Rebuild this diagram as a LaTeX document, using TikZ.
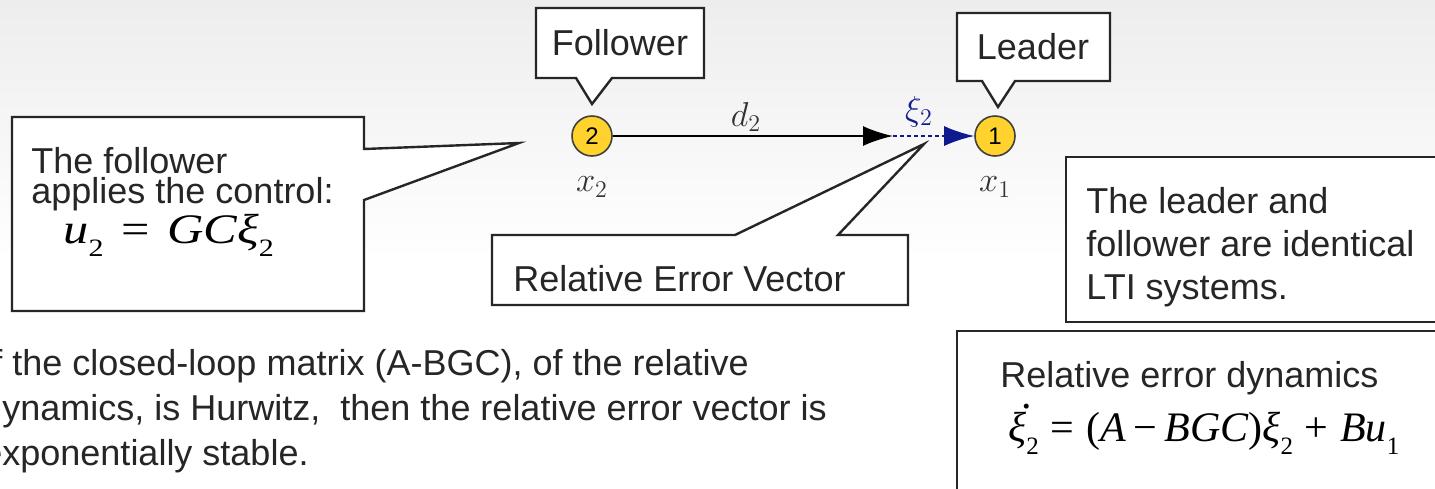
\documentclass[tikz,border=0pt]{standalone}
\usepackage[no-math]{fontspec}
\newfontfamily\arial{Liberation Sans}
\newfontfamily\eqserif{Liberation Serif}
\usetikzlibrary{arrows.meta}

\definecolor{slidetext}{HTML}{262626}
\definecolor{agentfill}{HTML}{FFD22E}
\definecolor{errblue}{HTML}{0D1B8E}

% subscripts and the dotted xi for the Times-style formulas
\newcommand\eqsub[1]{\raisebox{-0.32em}{\fontsize{12.5}{12.5}\selectfont\upshape #1}}
\newcommand\dotxi{\makebox[0pt][l]{\hspace{0.3em}\raisebox{0.78em}{\upshape .}}ξ}

\tikzset{
  callout/.style={draw=slidetext, line width=1.2pt, fill=white},
  slidetxt/.style={font=\arial\fontsize{18}{21.5}\selectfont, text=slidetext, inner sep=0pt, align=left},
  eqtxt/.style={font=\eqserif\itshape\fontsize{21}{21}\selectfont, text=black, inner sep=0pt},
  agent/.style={circle, draw=black!75, line width=0.8pt, fill=agentfill, minimum size=20pt, inner sep=0pt, font=\arial\fontsize{12}{12}\selectfont},
  glabel/.style={font=\fontsize{17}{17}\selectfont, text=black!80},
}

\begin{document}
\begin{tikzpicture}[x=0.5pt, y=-0.5pt]
\clip (0,0) rectangle (1435,488);
% slide background
\shade[top color=black!7, bottom color=white] (0,0) rectangle (1435,260);
\fill[white] (0,260) rectangle (1435,488);

% callouts
\draw[callout] (536,8) -- (704,8) -- (704,78) -- (612,78) -- (592,104) -- (576,78) -- (536,78) -- cycle;
\draw[callout] (957,13) -- (1110,13) -- (1110,81) -- (1015,81) -- (998,107) -- (982,81) -- (957,81) -- cycle;
\draw[callout] (12,117) -- (364,117) -- (364,149) -- (519,143) -- (364,200) -- (364,311) -- (12,311) -- cycle;
\draw[callout] (492,235) -- (735,235) -- (924,144) -- (838,235) -- (908,235) -- (908,305) -- (492,305) -- cycle;
\draw[callout] (1066,157) rectangle (1450,322);
\draw[callout] (957,331) rectangle (1450,500);

\node[slidetxt] (follower) at (620,43) {Follower};
\node[slidetxt] (leader) at (1033,47) {Leader};
\node[slidetxt, font=\arial\fontsize{18}{15}\selectfont, anchor=north west] (ctrltxt) at (31,147) {The follower\\applies the control:};
\node[eqtxt, anchor=base west] (ctrleq) at (63,243) {\scalebox{1.2}[1]{u\eqsub{2}\hspace{0.35em}{\upshape =}\hspace{0.35em}GCξ\eqsub{2}}};
\node[slidetxt, anchor=base west] (errvec) at (513,291) {Relative Error Vector};
\node[slidetxt, anchor=north west] (ltitxt) at (1086,187) {The leader and\\follower are identical\\LTI systems.};
\node[slidetxt, anchor=base west] (dyntxt) at (1000,387) {Relative error dynamics};
\node[eqtxt, anchor=base west] (dyneq) at (1008,441) {\dotxi\eqsub{2}\hspace{0.28em}{\upshape =}\hspace{0.28em}{\upshape (}A\hspace{0.18em}{\upshape −}\hspace{0.18em}BGC{\upshape )}ξ\eqsub{2}\hspace{0.28em}{\upshape +}\hspace{0.28em}Bu\eqsub{1}};
\node[slidetxt, font=\arial\fontsize{18}{22.5}\selectfont, anchor=north west] (stability) at (-18,349) {If the closed-loop matrix (A-BGC), of the relative\\dynamics, is Hurwitz,\ \ then the relative error vector is\\exponentially stable.};

% leader-follower pair
\node[agent] (n2) at (592,136) {2};
\node[agent] (n1) at (995,136) {1};
\coordinate (dtip) at (893,136);
\draw[line width=1.1pt, -{Latex[length=15pt,width=10pt]}] (n2) -- (dtip);
\draw[errblue, line width=1pt, dash pattern=on 2pt off 1.5pt, -{Latex[length=15pt,width=10pt]}] (dtip) -- (n1);
\node[glabel] (dlab) at (746,117) {$d_2$};
\node[glabel, text=errblue] (xilab) at (919,112) {$\xi_2$};
\node[glabel] (x2lab) at (592,187) {$x_2$};
\node[glabel] (x1lab) at (995,187) {$x_1$};
\end{tikzpicture}
\end{document}
